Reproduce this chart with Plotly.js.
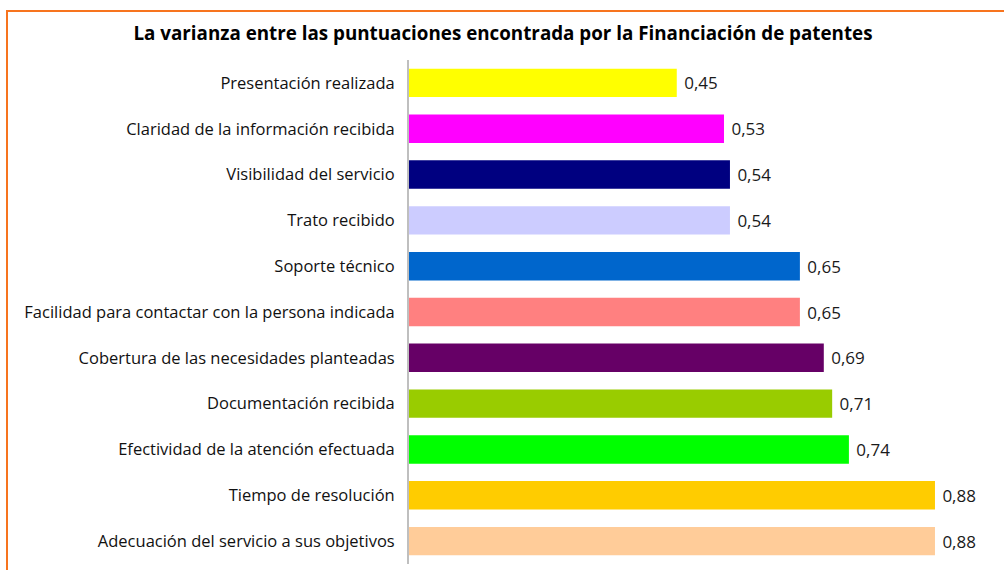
<!DOCTYPE html>
<html>
<head>
<meta charset="utf-8">
<script src="https://cdn.plot.ly/plotly-3.0.1.min.js"></script>
<style>
html,body{margin:0;padding:0;background:#fff;overflow:hidden;}
#chart{width:1004px;height:570px;}
</style>
</head>
<body>
<div id="chart"></div>
<script>
const categories = [
  "Presentación realizada",
  "Claridad de la información recibida",
  "Visibilidad del servicio",
  "Trato recibido",
  "Soporte técnico",
  "Facilidad para contactar con la persona indicada",
  "Cobertura de las necesidades planteadas",
  "Documentación recibida",
  "Efectividad de la atención efectuada",
  "Tiempo de resolución",
  "Adecuación del servicio a sus objetivos"
];
const values = [0.448, 0.527, 0.537, 0.537, 0.654, 0.654, 0.694, 0.708, 0.736, 0.880, 0.880];
const barColors = ["#FFFF00","#FF00FF","#000080","#CCCCFF","#0066CC","#FF8080","#660066","#99CC00","#00FF00","#FFCC00","#FFCC99"];
const chartTitle = "La varianza entre las puntuaciones encontrada por la Financiación de patentes";

const W = 1004, H = 570;
const mL = 409, mR = 0, mT = 60, mB = 6;
const plotW = W - mL - mR, plotH = H - mT - mB;
const pxPerUnit = 597.7;
const xMax = plotW / pxPerUnit;

const font = "Open Sans, Liberation Sans, Arial, sans-serif";

const trace = {
  type: "bar",
  orientation: "h",
  y: categories,
  x: values,
  marker: {color: barColors},
  text: values,
  texttemplate: " %{x:.2f}",
  textposition: "outside",
  constraintext: "none",
  cliponaxis: false,
  textfont: {family: font, size: 17, color: "#1a1a1a"},
  hoverinfo: "none"
};

// orange frame (px -> paper)
const fx0 = (7 - mL) / plotW;
const fy1 = (H - mB - 11) / plotH;

const layout = {
  width: W, height: H,
  margin: {l: mL, r: mR, t: mT, b: mB, pad: 0},
  paper_bgcolor: "#ffffff",
  plot_bgcolor: "#ffffff",
  separators: ",.",
  bargap: 0.38,
  showlegend: false,
  title: {
    text: "<b>" + chartTitle + "</b>",
    font: {family: font, size: 18.8, color: "#000000"},
    x: 503 / W, xref: "container", xanchor: "center",
    y: 1 - 33 / H, yref: "container", yanchor: "middle"
  },
  xaxis: {
    range: [0, xMax],
    visible: false,
    showgrid: false, zeroline: false
  },
  yaxis: {
    type: "category",
    autorange: "reversed",
    showline: true, linecolor: "#BFBFBF", linewidth: 2,
    showgrid: false, zeroline: false,
    ticks: "", ticklabelstandoff: 9,
    tickfont: {family: font, size: 16.5, color: "#111111"}
  },
  shapes: [{
    type: "rect", xref: "paper", yref: "paper",
    x0: fx0, x1: 1.2, y0: -0.2, y1: fy1,
    line: {color: "#F7741E", width: 2},
    layer: "below"
  }]
};

Plotly.newPlot("chart", [trace], layout, {staticPlot: true, displayModeBar: false});
</script>
</body>
</html>
